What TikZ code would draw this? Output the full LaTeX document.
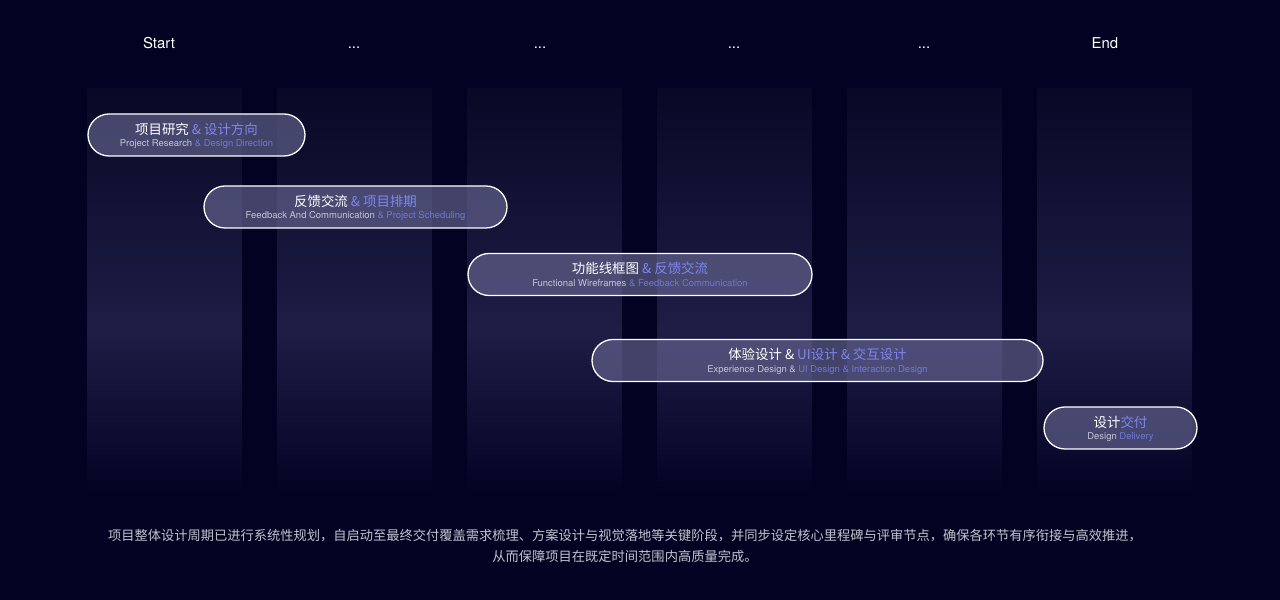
\documentclass[tikz,border=0pt]{standalone}
\usepackage{fontspec}
\setmainfont{TeX Gyre Heros}
\newfontfamily\cjk{Noto Sans CJK SC}
\definecolor{bg}{HTML}{020322}
\definecolor{coltop}{HTML}{080926}
\definecolor{colmid}{HTML}{1D1D46}
\definecolor{colbot}{HTML}{030424}
\definecolor{accent}{HTML}{7D86F0}
\definecolor{accentsub}{HTML}{6E77D6}
\definecolor{subtext}{HTML}{C4C4D6}
\definecolor{pillfill}{HTML}{6B6B96}
\definecolor{notetext}{HTML}{C2C2CC}
\newcommand\stagedots{...}
\begin{document}
\begin{tikzpicture}[x=1bp, y=1bp,
    pill/.style={draw=white, line width=1.3bp, fill=pillfill, fill opacity=0.62,
      rounded corners=21bp, minimum height=42bp, inner sep=0pt},
    title/.style={anchor=base, text=white, inner sep=0pt,
      font=\cjk\fontsize{13.5}{16}\selectfont},
    subtitle/.style={anchor=base, text=subtext, inner sep=0pt,
      font=\fontsize{9.5}{11}\selectfont},
    header/.style={anchor=base, text=white, inner sep=0pt,
      font=\fontsize{15}{18}\selectfont},
    note/.style={align=center, text=notetext, inner sep=0pt,
      font=\cjk\fontsize{13.3}{21}\selectfont}]

        \fill [bg] (0,0) rectangle (1280,600);
        \useasboundingbox (0,0) rectangle (1280,600);

        \foreach \i in {0,...,5} {
          \shade [top color=coltop, bottom color=colmid] (87+190*\i, 270) rectangle ++(155, 241);
          \shade [top color=colmid, bottom color=colbot] (87+190*\i, 110) rectangle ++(155, 160);
        }

        \foreach \x/\t [count=\n] in {159/Start, 354/\stagedots, 540/\stagedots, 734/\stagedots, 924/\stagedots, 1105/End}
          \node [header] (h\n) at (\x, 551) {\t};

        \node [pill, minimum width=217bp] (p1) at (196.5, 465) {};
        \node [title] (t1) at ([yshift=0.5bp]p1.center) {项目研究 \textcolor{accent}{\& 设计方向}};
        \node [subtitle] (s1) at ([yshift=-12bp]p1.center) {Project Research \textcolor{accentsub}{\& Design Direction}};

        \node [pill, minimum width=303bp] (p2) at (355.5, 393) {};
        \node [title] (t2) at ([yshift=0.5bp]p2.center) {反馈交流 \textcolor{accent}{\& 项目排期}};
        \node [subtitle] (s2) at ([yshift=-12bp]p2.center) {Feedback And Communication \textcolor{accentsub}{\& Project Scheduling}};

        \node [pill, minimum width=344bp] (p3) at (640, 325.5) {};
        \node [title] (t3) at ([yshift=0.5bp]p3.center) {功能线框图 \textcolor{accent}{\& 反馈交流}};
        \node [subtitle] (s3) at ([yshift=-12bp]p3.center) {Functional Wireframes \textcolor{accentsub}{\& Feedback Communication}};

        \node [pill, minimum width=451bp] (p4) at (817.5, 239.5) {};
        \node [title] (t4) at ([yshift=0.5bp]p4.center) {体验设计 \& \textcolor{accent}{UI设计 \& 交互设计}};
        \node [subtitle] (s4) at ([yshift=-12bp]p4.center) {Experience Design \& \textcolor{accentsub}{UI Design \& Interaction Design}};

        \node [pill, minimum width=153bp] (p5) at (1120.5, 172) {};
        \node [title] (t5) at ([yshift=0.5bp]p5.center) {设计\textcolor{accent}{交付}};
        \node [subtitle] (s5) at ([yshift=-12bp]p5.center) {Design \textcolor{accentsub}{Delivery}};

        \node [note] (note) at (625, 54.5) {项目整体设计周期已进行系统性规划，自启动至最终交付覆盖需求梳理、方案设计与视觉落地等关键阶段，并同步设定核心里程碑与评审节点，确保各环节有序衔接与高效推进，\\从而保障项目在既定时间范围内高质量完成。};
      \end{tikzpicture}
\end{document}
